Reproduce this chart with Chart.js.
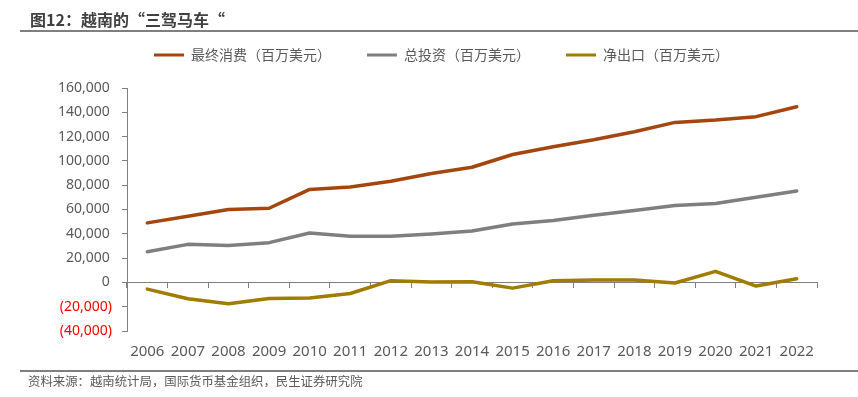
<!DOCTYPE html>
<html><head><meta charset="utf-8">
<script src="https://cdn.jsdelivr.net/npm/chart.js@4"></script>
<style>
html,body{margin:0;padding:0;background:#fff;}
#wrap{position:relative;width:858px;height:397px;overflow:hidden;font-family:"Noto Sans","Noto Sans CJK SC",sans-serif;}
#title{position:absolute;left:30px;top:8px;font-family:"Noto Sans CJK SC",sans-serif;font-weight:bold;font-size:16px;color:#404040;line-height:22px;white-space:nowrap;}
#tline{position:absolute;left:20px;right:0;top:30px;height:2px;background:#7f7f7f;}
#bline{position:absolute;left:20px;right:0;top:370px;height:2px;background:#7f7f7f;}
#src{position:absolute;left:28px;top:372px;font-family:"Noto Sans CJK SC",sans-serif;font-size:12.4px;color:#595959;line-height:18px;white-space:nowrap;}
canvas{position:absolute;left:0;top:0;}
</style></head>
<body>
<div id="wrap">
<canvas id="c" width="858" height="397"></canvas>
<div id="title">图12：越南的“三驾马车“</div>
<div id="tline"></div>
<div id="bline"></div>
<div id="src">资料来源：越南统计局，国际货币基金组织，民生证券研究院</div>
</div>
<script>
const years = ['2006','2007','2008','2009','2010','2011','2012','2013','2014','2015','2016','2017','2018','2019','2020','2021','2022'];
const consumption = [49000,54500,60000,61000,76500,78600,83300,89600,94800,105300,111600,117400,124000,131700,133600,136400,144600];
const investment = [25300,31300,30300,32700,40700,37900,37900,39800,42300,48100,50900,55300,59100,63300,64900,70100,75300];
const netExports = [-5500,-13400,-17600,-13200,-12900,-9100,1400,300,600,-4700,1400,1900,1900,-500,9100,-3000,3000];
const seriesNames = ['最终消费（百万美元）','总投资（百万美元）','净出口（百万美元）'];
const seriesColors = ['#A5460F','#7F7F7F','#A07C00'];
const yTicks = {min:-40000, max:160000, step:20000};

function fmt(v){
  const s = Math.abs(v).toLocaleString('en-US');
  return v < 0 ? '(' + s + ')' : s + '\u2009';
}

const legendFix = {
  id:'legendFix',
  beforeLayout(chart){
    const lg = chart.legend;
    if (lg && !lg._patched){
      const orig = lg.fit;
      lg.fit = function(){ orig.call(this); this.height = 76; };
      lg._patched = true;
    }
  }
};

const series = [consumption, investment, netExports];
new Chart(document.getElementById('c'), {
  type:'line',
  data:{
    labels: years,
    datasets: series.map((d,i)=>({
      label: seriesNames[i], data: d,
      borderColor: seriesColors[i], backgroundColor: seriesColors[i],
      borderWidth: 3.5, pointRadius: 0, tension: 0,
      borderCapStyle:'round', borderJoinStyle:'round',
      xAxisID:'x', yAxisID:'y'
    }))
  },
  plugins:[legendFix],
  options:{
    responsive:false, animation:false,
    layout:{padding:{top:12,left:25,right:0,bottom:26}},
    plugins:{
      tooltip:{enabled:false},
      legend:{
        position:'top', align:'center',
        labels:{
          boxWidth:30, boxHeight:3, padding:36,
          color:'#595959',
          font:{family:'"Noto Sans CJK SC", sans-serif', size:14},
          generateLabels(chart){
            return Chart.defaults.plugins.legend.labels.generateLabels(chart).map(it=>{it.lineWidth=0; return it;});
          }
        }
      }
    },
    scales:{
      x:{
        type:'category', position:'bottom', offset:true,
        grid:{display:false, drawTicks:false},
        border:{display:false},
        ticks:{color:'#595959', padding:12, maxRotation:0, autoSkip:false,
          font:{family:'"Noto Sans", sans-serif', size:15}},
        afterFit(s){ s.height = 40; }
      },
      x0:{
        type:'category', position:{y:0}, offset:true,
        grid:{drawOnChartArea:false, drawTicks:true, tickLength:5, color:'#7f7f7f', offset:true},
        border:{display:true, color:'#7f7f7f', width:1},
        ticks:{display:false}
      },
      y:{
        type:'linear', position:'left',
        min:yTicks.min, max:yTicks.max,
        grid:{drawOnChartArea:false, drawTicks:true, tickLength:5, color:'#7f7f7f'},
        border:{display:true, color:'#7f7f7f', width:1},
        ticks:{stepSize:yTicks.step, padding:10,
          color:(ctx)=> ctx.tick.value < 0 ? '#FF0000' : '#595959',
          font:{family:'"Noto Sans", sans-serif', size:14},
          callback:(v)=>fmt(v)},
        afterFit(s){ s.width = 102; }
      },
      yR:{
        type:'linear', position:'right', display:true,
        grid:{display:false, drawTicks:false}, border:{display:false},
        ticks:{display:false},
        afterFit(s){ s.width = 41; }
      }
    }
  }
});
</script>
</body></html>
